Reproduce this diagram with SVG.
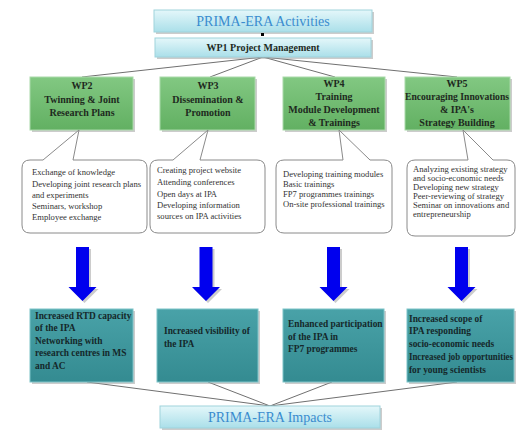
<svg xmlns="http://www.w3.org/2000/svg" width="518" height="431" viewBox="0 0 518 431">
<defs>
<linearGradient id="gCyan" x1="0" y1="0" x2="0" y2="1"><stop offset="0" stop-color="#e4f7fa"/><stop offset="1" stop-color="#aadfe9"/></linearGradient>
<linearGradient id="gGreen" x1="0" y1="0" x2="0" y2="1"><stop offset="0" stop-color="#82c882"/><stop offset="1" stop-color="#62b062"/></linearGradient>
<linearGradient id="gTeal" x1="0" y1="0" x2="0" y2="1"><stop offset="0" stop-color="#49a2a8"/><stop offset="1" stop-color="#348b91"/></linearGradient>
<path id="arr" d="M-6.5,0 H6.5 V40 H14 L0,54 L-14,40 H-6.5 Z"/>
</defs>
<style>
.cyan{fill:url(#gCyan);stroke:#9fd3dc;stroke-width:1}
.green{fill:url(#gGreen);stroke:#a9d9a9;stroke-width:1}
.teal{fill:url(#gTeal);stroke:#7cc3c8;stroke-width:1}
.shadow{fill:#9a9a9a;opacity:0.5}
.call{fill:#ffffff;stroke:#8a8a8a;stroke-width:1}
.conn{stroke:#707070;stroke-width:1;fill:none}
.title{font-family:"Liberation Serif",serif;font-size:14px;fill:#3a8ccf;text-anchor:middle}
.wp{font-family:"Liberation Serif",serif;font-size:10px;font-weight:bold;fill:#1e2a1e;text-anchor:middle}
.ct{font-family:"Liberation Serif",serif;font-size:8.6px;fill:#333333}
.it{font-family:"Liberation Serif",serif;font-size:9.4px;font-weight:bold;fill:#15282a}
.blue{fill:#0000ee}
</style>

<g id="connectors">
<line class="conn" x1="263" y1="57" x2="82" y2="77"/>
<line class="conn" x1="263" y1="57" x2="210" y2="77"/>
<line class="conn" x1="263" y1="57" x2="335" y2="77"/>
<line class="conn" x1="263" y1="57" x2="457" y2="77"/>
<line class="conn" x1="87" y1="382" x2="270" y2="406"/>
<line class="conn" x1="208" y1="382" x2="270" y2="406"/>
<line class="conn" x1="332" y1="382" x2="270" y2="406"/>
<line class="conn" x1="457" y1="382" x2="270" y2="406"/>
</g>

<g id="activities">
<rect class="shadow" x="156" y="12" width="218" height="22"/>
<rect class="cyan" x="154" y="10" width="218" height="22"/>
<text class="title" x="263" y="26">PRIMA-ERA Activities</text>
<rect x="261" y="33" width="3" height="3" fill="#000"/>
</g>

<g id="wp1">
<rect class="shadow" x="157" y="40" width="216" height="19"/>
<rect class="cyan" x="155" y="38" width="216" height="19"/>
<text class="wp" x="263" y="51">WP1 Project Management</text>
</g>

<g id="wp2">
<rect class="shadow" x="32" y="79" width="103" height="53"/>
<rect class="green" x="30" y="77" width="103" height="53"/>
<text class="wp" x="82" y="89">WP2</text>
<text class="wp" x="82" y="103">Twinning &amp; Joint</text>
<text class="wp" x="82" y="116">Research Plans</text>
</g>
<g id="wp3">
<rect class="shadow" x="162" y="79" width="95" height="53"/>
<rect class="green" x="160" y="77" width="95" height="53"/>
<text class="wp" x="208" y="89">WP3</text>
<text class="wp" x="208" y="103">Dissemination &amp;</text>
<text class="wp" x="208" y="116">Promotion</text>
</g>
<g id="wp4">
<rect class="shadow" x="285" y="79" width="102" height="53"/>
<rect class="green" x="283" y="77" width="102" height="53"/>
<text class="wp" x="334" y="87">WP4</text>
<text class="wp" x="334" y="100">Training</text>
<text class="wp" x="334" y="113">Module Development</text>
<text class="wp" x="334" y="126">&amp; Trainings</text>
</g>
<g id="wp5">
<rect class="shadow" x="407" y="79" width="105" height="53"/>
<rect class="green" x="405" y="77" width="105" height="53"/>
<text class="wp" x="457" y="87">WP5</text>
<text class="wp" x="457" y="100" textLength="104" lengthAdjust="spacingAndGlyphs">Encouraging Innovations</text>
<text class="wp" x="457" y="113">&amp; IPA's</text>
<text class="wp" x="457" y="126">Strategy Building</text>
</g>

<g id="callout2">
<path class="call" d="M30,160 H43 L79,130 L73,160 H139 Q147,160 147,168 V225 Q147,233 139,233 H30 Q22,233 22,225 V168 Q22,160 30,160 Z"/>
<text class="ct" x="32" y="175">Exchange of knowledge</text>
<text class="ct" x="32" y="187">Developing joint research plans</text>
<text class="ct" x="32" y="198">and experiments</text>
<text class="ct" x="32" y="209">Seminars, workshop</text>
<text class="ct" x="32" y="220">Employee exchange</text>
</g>
<g id="callout3">
<path class="call" d="M158,160 H173 L208,130 L200,160 H257 Q265,160 265,168 V225 Q265,233 257,233 H158 Q150,233 150,225 V168 Q150,160 158,160 Z"/>
<text class="ct" x="157" y="173">Creating project website</text>
<text class="ct" x="157" y="185">Attending conferences</text>
<text class="ct" x="157" y="197">Open days at IPA</text>
<text class="ct" x="157" y="208">Developing information</text>
<text class="ct" x="157" y="219">sources on IPA activities</text>
</g>
<g id="callout4">
<path class="call" d="M284,160 H343 L339,130 L370,160 H384 Q392,160 392,168 V225 Q392,233 384,233 H284 Q276,233 276,225 V168 Q276,160 284,160 Z"/>
<text class="ct" x="283" y="177">Developing training modules</text>
<text class="ct" x="283" y="187">Basic trainings</text>
<text class="ct" x="283" y="197">FP7 programmes trainings</text>
<text class="ct" x="283" y="207">On-site professional trainings</text>
</g>
<g id="callout5">
<path class="call" d="M415,160 H468 L463,130 L493,160 H507 Q515,160 515,168 V228 Q515,236 507,236 H415 Q407,236 407,228 V168 Q407,160 415,160 Z"/>
<text class="ct" x="413" y="172">Analyzing existing strategy</text>
<text class="ct" x="413" y="181">and socio-economic needs</text>
<text class="ct" x="413" y="190">Developing new strategy</text>
<text class="ct" x="413" y="199">Peer-reviewing of strategy</text>
<text class="ct" x="413" y="208">Seminar on innovations and</text>
<text class="ct" x="413" y="217">entrepreneurship</text>
</g>

<g id="arrows">
<use href="#arr" x="84.5" y="249" class="shadow"/>
<use href="#arr" x="82.5" y="247" class="blue"/>
<use href="#arr" x="208" y="249" class="shadow"/>
<use href="#arr" x="206" y="247" class="blue"/>
<use href="#arr" x="335.5" y="249" class="shadow"/>
<use href="#arr" x="333.5" y="247" class="blue"/>
<use href="#arr" x="463.5" y="249" class="shadow"/>
<use href="#arr" x="461.5" y="247" class="blue"/>
</g>

<g id="impact1">
<rect class="shadow" x="32" y="311" width="103" height="73"/>
<rect class="teal" x="30" y="309" width="103" height="73"/>
<text class="it" x="35" y="319">Increased RTD capacity</text>
<text class="it" x="35" y="331">of the IPA</text>
<text class="it" x="35" y="344">Networking with</text>
<text class="it" x="35" y="356">research centres in MS</text>
<text class="it" x="35" y="369">and AC</text>
</g>
<g id="impact2">
<rect class="shadow" x="159" y="311" width="101" height="73"/>
<rect class="teal" x="157" y="309" width="101" height="73"/>
<text class="it" x="164" y="334">Increased visibility of</text>
<text class="it" x="164" y="347">the IPA</text>
</g>
<g id="impact3">
<rect class="shadow" x="285" y="311" width="101" height="73"/>
<rect class="teal" x="283" y="309" width="101" height="73"/>
<text class="it" x="288" y="327">Enhanced participation</text>
<text class="it" x="288" y="340">of the IPA in</text>
<text class="it" x="288" y="352">FP7 programmes</text>
</g>
<g id="impact4">
<rect class="shadow" x="409" y="311" width="107" height="73"/>
<rect class="teal" x="407" y="309" width="107" height="73"/>
<text class="it" x="409" y="322">Increased scope of</text>
<text class="it" x="409" y="334">IPA responding</text>
<text class="it" x="409" y="347">socio-economic needs</text>
<text class="it" x="409" y="360" textLength="104" lengthAdjust="spacingAndGlyphs">Increased job opportunities</text>
<text class="it" x="409" y="373">for young scientists</text>
</g>

<g id="impacts">
<rect class="shadow" x="162" y="408" width="220" height="22"/>
<rect class="cyan" x="160" y="406" width="220" height="22"/>
<text class="title" x="270" y="422">PRIMA-ERA Impacts</text>
</g>
</svg>
